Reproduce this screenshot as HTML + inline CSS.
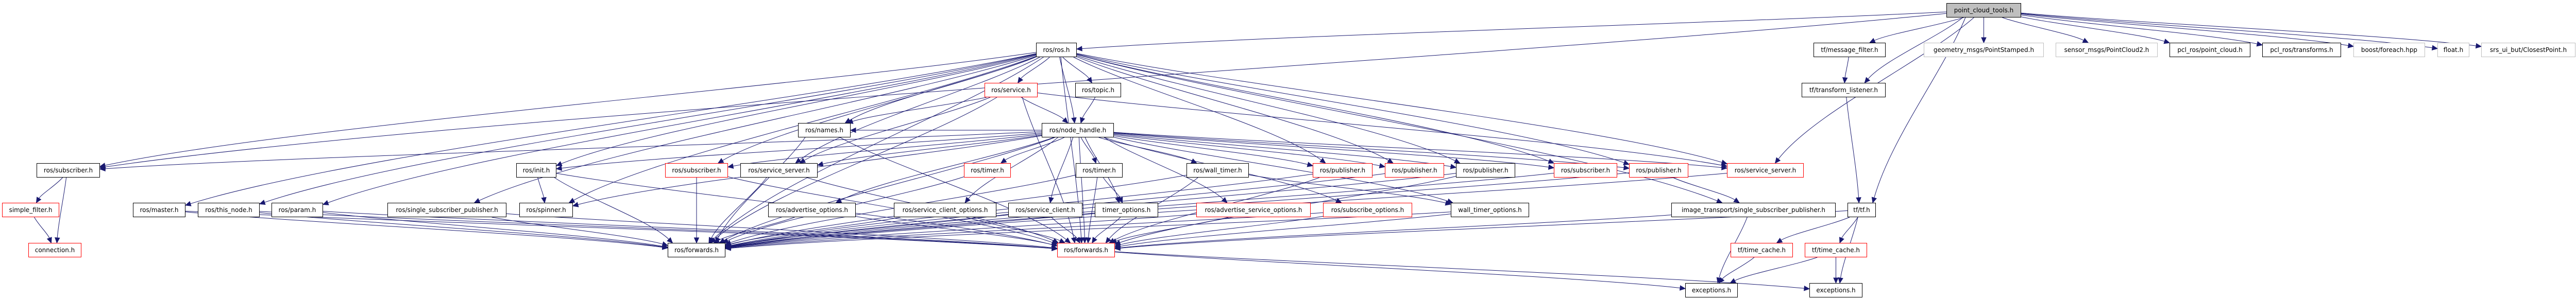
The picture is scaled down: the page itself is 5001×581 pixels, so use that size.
<!DOCTYPE html>
<html><head><meta charset="utf-8">
<style>
html,body{margin:0;padding:0;background:#fff;}
svg{display:block;}
text{font-family:"DejaVu Sans","Liberation Sans",sans-serif;font-size:12px;}
</style></head>
<body>
<svg id="g" xmlns="http://www.w3.org/2000/svg" width="5001" height="581" viewBox="0 0 5001 581">
<rect x="0" y="0" width="5001" height="581" fill="#fff"/>
<g id="edges" fill="none" stroke="#191970" stroke-width="1"></g>
<g id="heads" fill="#191970" stroke="#191970"></g>
<g id="nodes"></g>
</svg>
<script>
var R=[6,83,161,239,317,394,472,550];
var N={
pct:[3778,3923,0,"point_cloud_tools.h","k"],
rosros:[2011,2090,1,"ros/ros.h"],
msgfilter:[3520,3660,1,"tf/message_filter.h"],
geom:[3734,3967,1,"geometry_msgs/PointStamped.h","g"],
sensor:[3990,4188,1,"sensor_msgs/PointCloud2.h","g"],
pclpc:[4211,4368,1,"pcl_ros/point_cloud.h"],
pcltf:[4391,4544,1,"pcl_ros/transforms.h"],
boost:[4568,4707,1,"boost/foreach.hpp","g"],
flt:[4731,4793,1,"float.h","g"],
srs:[4816,4999,1,"srs_ui_but/ClosestPoint.h","g"],
service:[1911,2014,2,"ros/service.h","r"],
topic:[2087,2176,2,"ros/topic.h"],
tflistener:[3497,3660,2,"tf/transform_listener.h"],
names:[1549,1651,3,"ros/names.h"],
nh:[2022,2162,3,"ros/node_handle.h"],
sub1:[71,194,4,"ros/subscriber.h"],
init:[1002,1080,4,"ros/init.h"],
subr1:[1291,1413,4,"ros/subscriber.h","r"],
ss:[1437,1587,4,"ros/service_server.h"],
timerr:[1871,1962,4,"ros/timer.h","r"],
timer:[2088,2179,4,"ros/timer.h"],
wt:[2303,2424,4,"ros/wall_timer.h"],
pr1:[2548,2664,4,"ros/publisher.h","r"],
pr2:[2688,2803,4,"ros/publisher.h","r"],
pb:[2826,2941,4,"ros/publisher.h"],
subr2:[3016,3139,4,"ros/subscriber.h","r"],
pr3:[3162,3277,4,"ros/publisher.h","r"],
ssr:[3352,3501,4,"ros/service_server.h","r"],
sf:[4,115,5,"simple_filter.h","r"],
master:[258,360,5,"ros/master.h"],
thisnode:[384,504,5,"ros/this_node.h"],
param:[527,627,5,"ros/param.h"],
ssp:[752,983,5,"ros/single_subscriber_publisher.h"],
spinner:[1008,1112,5,"ros/spinner.h"],
adv:[1491,1661,5,"ros/advertise_options.h"],
sco:[1735,1934,5,"ros/service_client_options.h"],
sc:[1957,2101,5,"ros/service_client.h"],
to:[2125,2248,5,"timer_options.h"],
aso:[2322,2544,5,"ros/advertise_service_options.h","r"],
subo:[2568,2741,5,"ros/subscribe_options.h","r"],
wto:[2816,2968,5,"wall_timer_options.h"],
itssp:[3244,3563,5,"image_transport/single_subscriber_publisher.h"],
tftf:[3586,3641,5,"tf/tf.h"],
conn:[55,158,6,"connection.h","r"],
fwd:[1296,1408,6,"ros/forwards.h"],
fwdr:[2052,2164,6,"ros/forwards.h","r"],
tc1:[3359,3480,6,"tf/time_cache.h","r"],
tc2:[3503,3624,6,"tf/time_cache.h","r"],
exc1:[3271,3373,7,"exceptions.h"],
exc2:[3512,3615,7,"exceptions.h"]
};
var E=[
["pct","rosros"],["pct","msgfilter"],["pct","geom"],["pct","sensor"],["pct","pclpc"],["pct","pcltf"],["pct","boost"],["pct","flt"],["pct","srs"],["pct","tftf"],["pct","tflistener"],["pct","sub1"],["pct","ssr"],
["rosros","service"],["rosros","topic"],["rosros","nh"],["rosros","names"],["rosros","sub1"],["rosros","init"],["rosros","subr1"],["rosros","ss"],["rosros","master"],["rosros","thisnode"],["rosros","param"],["rosros","ssp"],["rosros","spinner"],["rosros","pr1"],["rosros","pr2"],["rosros","pb"],["rosros","subr2"],["rosros","pr3"],["rosros","ssr"],["rosros","itssp"],["rosros","fwd"],["rosros","fwdr"],
["service","nh"],["service","names"],["service","ss"],["service","ssr"],["service","fwd"],["service","fwdr"],
["topic","nh"],["msgfilter","tflistener"],["tflistener","tftf"],
["nh","timerr"],["nh","timer"],["nh","wt"],["nh","sco"],["nh","sc"],["nh","to"],["nh","aso"],["nh","adv"],["nh","subr1"],["nh","ss"],["nh","init"],["nh","spinner"],["nh","sub1"],["nh","pr1"],["nh","pr2"],["nh","pb"],["nh","subr2"],["nh","pr3"],["nh","ssr"],["nh","subo"],["nh","wto"],["nh","names"],["nh","fwd"],["nh","fwdr"],
["names","fwd"],["names","fwdr"],["init","spinner"],["init","fwdr"],["init","fwd"],
["timer","to"],["timer","fwdr"],["timer","fwd"],["timerr","fwd"],["wt","wto"],["wt","fwd"],["wt","fwdr"],
["pr3","itssp"],["pr1","fwd"],["pr2","fwd"],["pb","fwd"],["subr2","fwd"],["pr3","fwd"],["ssr","fwd"],["pr1","fwdr"],["pb","fwdr"],
["subr1","fwd"],["subr1","fwdr"],["ss","fwd"],["ss","fwdr"],
["sub1","sf"],["sub1","conn"],["sf","conn"],
["master","fwd"],["thisnode","fwd"],["param","fwd"],["ssp","fwd"],["master","fwdr"],["thisnode","fwdr"],["param","fwdr"],["ssp","fwdr"],
["adv","fwd"],["adv","fwdr"],["sco","fwd"],["sco","fwdr"],["sc","fwdr"],["sc","fwd"],["to","fwdr"],["to","fwd"],["aso","fwdr"],["aso","fwd"],["subo","fwdr"],["subo","fwd"],["wto","fwdr"],["wto","fwd"],["itssp","fwdr"],["itssp","exc1"],
["tftf","tc1"],["tftf","tc2"],["tftf","exc2"],["tftf","fwdr"],["tc2","exc2"],["tc2","exc1"],["tc1","exc1"],["fwdr","exc1"],["fwdr","exc2"]
];
var H=28,ns="http://www.w3.org/2000/svg";
function box(k){var n=N[k];return {x1:n[0],x2:n[1],y1:R[n[2]],y2:R[n[2]]+H,cx:(n[0]+n[1])/2,cy:R[n[2]]+H/2,row:n[2]};}
function clip(b,tx,ty){var dx=tx-b.cx,dy=ty-b.cy;if(dx==0&&dy==0)return[b.cx,b.cy];
 var hw=(b.x2-b.x1)/2,hh=H/2;var s=Math.min(dx!=0?hw/Math.abs(dx):1e9,dy!=0?hh/Math.abs(dy):1e9);return[b.cx+dx*s,b.cy+dy*s];}
var eg=document.getElementById("edges"),hg=document.getElementById("heads"),ng=document.getElementById("nodes");
E.forEach(function(e){var a=box(e[0]),b=box(e[1]);
 var s,t,c1,c2;
 if(b.row>a.row){
  var sx=Math.max(a.x1+4,Math.min(a.x2-4,a.cx+(b.cx-a.cx)*0.15));
  var tx=Math.max(b.x1+6,Math.min(b.x2-6,b.cx+(a.cx-b.cx)*0.15));
  s=clip(a,b.cx,b.cy);t=clip(b,a.cx,a.cy);
  if(Math.abs(b.cx-a.cx)<400){s=[sx,a.y2];t=[tx,b.y1];}
  var dy=t[1]-s[1];
  c1=[s[0]+(t[0]-s[0])*0.25,s[1]+dy*0.3];c2=[t[0]-(t[0]-s[0])*0.2,t[1]-dy*0.35];
 }else{
  s=clip(a,b.cx,b.cy);t=clip(b,a.cx,a.cy);
  c1=[s[0]+(t[0]-s[0])*0.33,s[1]+(t[1]-s[1])*0.2];c2=[s[0]+(t[0]-s[0])*0.67,t[1]-(t[1]-s[1])*0.1];
 }
 var ux=t[0]-c2[0],uy=t[1]-c2[1],L=Math.sqrt(ux*ux+uy*uy)||1;ux/=L;uy/=L;
 var bx=t[0]-ux*10,by=t[1]-uy*10;
 var p=document.createElementNS(ns,"path");
 p.setAttribute("d","M"+s[0].toFixed(1)+","+s[1].toFixed(1)+" C"+c1[0].toFixed(1)+","+c1[1].toFixed(1)+" "+c2[0].toFixed(1)+","+c2[1].toFixed(1)+" "+bx.toFixed(1)+","+by.toFixed(1));
 eg.appendChild(p);
 var h=document.createElementNS(ns,"polygon");
 h.setAttribute("points",t[0]+","+t[1]+" "+(bx-uy*4.5)+","+(by+ux*4.5)+" "+(bx+uy*4.5)+","+(by-ux*4.5));
 hg.appendChild(h);
});
for(var k in N){var n=N[k],b=box(k);
 var r=document.createElementNS(ns,"rect");
 r.setAttribute("x",b.x1+0.5);r.setAttribute("y",b.y1+0.5);r.setAttribute("width",b.x2-b.x1-1);r.setAttribute("height",H-1);
 var c=n[4];
 r.setAttribute("fill",c=="k"?"#bfbfbf":"#fff");
 r.setAttribute("stroke",c=="r"?"#ff0000":(c=="g"?"#bfbfbf":"#000"));
 r.setAttribute("stroke-width","1");
 ng.appendChild(r);
 var t=document.createElementNS(ns,"text");
 t.setAttribute("x",b.cx);t.setAttribute("y",b.y1+18);t.setAttribute("text-anchor","middle");t.setAttribute("fill","#000");
 t.textContent=n[3];ng.appendChild(t);
}
</script>
</body></html>
